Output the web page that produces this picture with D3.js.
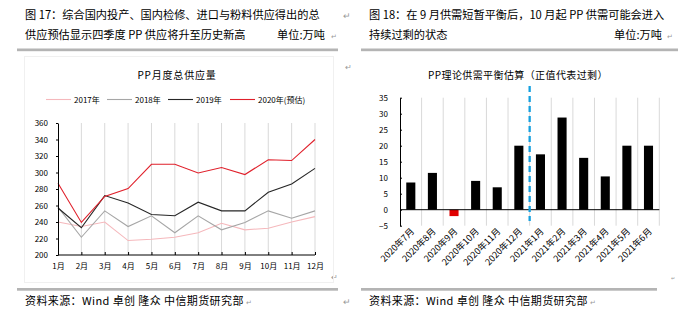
<!DOCTYPE html>
<html><head><meta charset="utf-8">
<script src="https://cdn.jsdelivr.net/npm/d3@7/dist/d3.min.js"></script>
<style>
html,body{margin:0;padding:0;background:#fff;}
svg{display:block;font-family:"Liberation Sans","Noto Sans CJK SC",sans-serif;}
</style></head>
<body><svg id="c" width="678" height="323"></svg>
<script>
// ---------- data ----------
const months = ["1月","2月","3月","4月","5月","6月","7月","8月","9月","10月","11月","12月"];
const seriesNames = ["2017年","2018年","2019年","2020年(预估)"];
const s2017 = [240,234.5,240,217.5,219,221.5,227,238.5,230.5,232.5,240,246.5];
const s2018 = [258,221.5,253.5,234.5,247.5,227,247.5,230.5,239.5,253.5,244.5,253.5];
const s2019 = [257,233,272,263,249,247.5,264,253.5,253.5,276,286,305];
const s2020 = [287,239.5,271,280.5,310,310,299.5,306,297.5,315.5,314.5,340];
const leftYTicks = [200,220,240,260,280,300,320,340,360];

const balCats = ["2020年7月","2020年8月","2020年9月","2020年10月","2020年11月","2020年12月","2021年1月","2021年2月","2021年3月","2021年4月","2021年5月","2021年6月"];
const balVals = [8.5,11.5,-2,9,7,20,17.3,28.8,16.2,10.4,20,20];
const rightYTicks = [-5,0,5,10,15,20,25,30,35];

const svg = d3.select("#c");
const cjk = '"Noto Sans CJK SC","Liberation Sans",sans-serif';

// ---------- page decorations ----------
function txt(x,y,s,size,anchor,fill){
  return svg.append("text").attr("x",x).attr("y",y).text(s)
    .attr("font-size",size).attr("text-anchor",anchor||"start")
    .attr("fill",fill||"#000").style("font-family",cjk);
}
function ret(x,y,size){ return txt(x,y,"↵",size||8,"start","#999"); }

txt(25,19,"图 17：综合国内投产、国内检修、进口与粉料供应得出的总",11.2);
txt(25,38.5,"供应预估显示四季度 PP 供应将升至历史新高",11.2);
txt(277,38.5,"单位:万吨",11.2);
ret(331,38.5,7);
ret(343,19,9);
txt(369,19,"图 18：在 9 月供需短暂平衡后，10 月起 PP 供需可能会进入",11.2);
txt(369,38.5,"持续过剩的状态",11.2);
txt(614,38.5,"单位:万吨",11.2);
ret(667,38.5,7);

svg.append("rect").attr("x",17).attr("y",48.5).attr("width",321).attr("height",2.7).attr("fill","#b4b4b4");
svg.append("rect").attr("x",361).attr("y",48.5).attr("width",317).attr("height",2.7).attr("fill","#b4b4b4");
svg.append("rect").attr("x",17).attr("y",288).attr("width",321).attr("height",2.7).attr("fill","#b4b4b4");
svg.append("rect").attr("x",361).attr("y",288).attr("width",296).attr("height",2.7).attr("fill","#b4b4b4");

const f1 = txt(25,305,"资料来源：Wind 卓创 隆众 中信期货研究部",11).attr("letter-spacing","0.4");
ret(25 + f1.node().getComputedTextLength() + 2, 305, 7);
ret(343,305,9);
const f2 = txt(369,305,"资料来源：Wind 卓创 隆众 中信期货研究部",11).attr("letter-spacing","0.4");
ret(369 + f2.node().getComputedTextLength() + 2, 305, 7);
ret(331,280,8);
ret(345,70,8);
ret(671,280,5);

// faint chart frame
svg.append("rect").attr("x",24.5).attr("y",56.5).attr("width",309).attr("height",226).attr("fill","none").attr("stroke","#f0f0f0");

// ---------- left chart ----------
const L = svg.append("g");
const x1 = d3.scalePoint().domain(months).range([58,315]);
const y1 = d3.scaleLinear().domain([200,360]).range([255,123]);

txt(177,79,"PP月度总供应量",10,"middle").attr("letter-spacing","0.8");

L.selectAll(".vg").data(months.slice(1)).enter().append("line")
  .attr("x1",d=>x1(d)).attr("x2",d=>x1(d)).attr("y1",y1(360)).attr("y2",y1(200))
  .attr("stroke","#d9d9d9").attr("stroke-width",1);

const lineGen = d3.line().x((d,i)=>x1(months[i])).y(d=>y1(d));
const series = [s2017,s2018,s2019,s2020];
const colors = ["#f5b8bc","#a6a6a6","#262626","#e0202b"];
series.forEach((s,k)=>{
  L.append("path").datum(s).attr("d",lineGen).attr("fill","none")
   .attr("stroke",colors[k]).attr("stroke-width",1.1);
});

const ax1 = L.append("g").attr("transform","translate(0,255)")
  .call(d3.axisBottom(x1).tickSize(-3).tickPadding(8));
ax1.select(".domain").attr("d","M58,0H315").attr("stroke","#000");
ax1.selectAll("text").attr("font-size",8).style("font-family",cjk);
const ay1 = L.append("g").attr("transform","translate(58,0)")
  .call(d3.axisLeft(y1).tickValues(leftYTicks).tickSize(0).tickPadding(10));
ay1.select(".domain").attr("stroke","#000");
ay1.selectAll("text").attr("font-size",8).style("font-family",cjk);
ay1.selectAll(".tick").append("line").attr("x1",-2).attr("x2",0).attr("stroke","#000");

const legX = [46,107,168,230];
seriesNames.forEach((n,k)=>{
  L.append("line").attr("x1",legX[k]).attr("x2",legX[k]+25).attr("y1",99.5).attr("y2",99.5)
   .attr("stroke",colors[k]).attr("stroke-width",1.1);
  L.append("text").attr("x",legX[k]+28).attr("y",102.5).text(n)
   .attr("font-size",8).style("font-family",cjk);
});

// ---------- right chart ----------
const R = svg.append("g");
const x2 = d3.scaleBand().domain(balCats).range([400,659.3]).paddingInner(0.58).paddingOuter(0.29);
const y2 = d3.scaleLinear().domain([-5,35]).range([225.7,97.7]);
const step = x2.step();

txt(518,79,"PP理论供需平衡估算（正值代表过剩）",10,"middle").attr("letter-spacing","0.4");

R.selectAll(".vg").data(d3.range(1,13)).enter().append("line")
  .attr("x1",i=>400+i*step).attr("x2",i=>400+i*step).attr("y1",y2(35)).attr("y2",y2(-5))
  .attr("stroke","#d9d9d9").attr("stroke-width",1);

R.selectAll(".bar").data(balVals).enter().append("rect")
  .attr("x",(d,i)=>x2(balCats[i])).attr("width",x2.bandwidth())
  .attr("y",d=>y2(Math.max(0,d))).attr("height",d=>Math.abs(y2(d)-y2(0)))
  .attr("fill",d=>d<0?"#e00000":"#000");

const ay2 = R.append("g").attr("transform","translate(400,0)")
  .call(d3.axisLeft(y2).tickValues(rightYTicks).tickSize(0).tickPadding(12));
ay2.select(".domain").attr("stroke","#000");
ay2.selectAll("text").attr("font-size",8).style("font-family",cjk);
ay2.selectAll(".tick").append("line").attr("x1",0).attr("x2",2).attr("stroke","#000");

R.append("line").attr("x1",400).attr("x2",659.3).attr("y1",y2(0)).attr("y2",y2(0))
  .attr("stroke","#000").attr("stroke-width",1);

const divX = 400 + 6*step;
R.append("line").attr("x1",divX).attr("x2",divX).attr("y1",86).attr("y2",221)
  .attr("stroke","#14a0e0").attr("stroke-width",2.3).attr("stroke-dasharray","6,4");

R.selectAll(".xl").data(balCats).enter().append("text")
  .attr("transform",d=>`translate(${x2(d)+x2.bandwidth()/2+4},${232}) rotate(-45)`)
  .attr("text-anchor","end").attr("font-size",9).style("font-family",cjk).text(d=>d);
</script></body></html>
